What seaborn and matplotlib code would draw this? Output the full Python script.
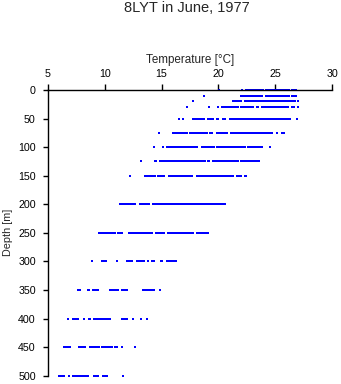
import matplotlib
matplotlib.use("Agg")
import matplotlib.pyplot as plt
import seaborn as sns
import pandas as pd

# Observed temperature ranges (start, end) in deg C at each sampling depth [m]
depths = [0, 10, 20, 30, 50, 75, 100, 125, 150, 200, 250, 300, 350, 400, 450, 500]
seg_0 = [(20.05, 20.05), (22.05, 22.1), (22.4, 23.9), (24.2, 26.2), (26.5, 26.8)]
seg_10 = [(18.7, 18.7), (22.0, 23.8), (24.15, 26.2), (26.5, 26.8)]
seg_20 = [(17.75, 17.75), (21.3, 22.0), (22.3, 26.75), (27.0, 27.0)]
seg_30 = [(17.25, 17.25), (19.15, 19.15), (19.95, 19.95), (20.3, 21.7), (22.0, 23.0),
          (23.4, 23.5), (23.8, 26.1), (26.5, 26.6), (27.0, 27.0)]
seg_50 = [(16.5, 16.5), (16.85, 16.85), (17.8, 18.7), (19.1, 19.5), (19.9, 19.95),
          (20.4, 20.6), (21.0, 26.3), (26.9, 26.9)]
seg_75 = [(14.8, 14.8), (16.0, 17.2), (17.5, 19.0), (19.3, 19.4), (19.9, 20.75),
          (21.1, 24.7), (25.1, 25.1), (25.6, 25.8)]
seg_100 = [(14.3, 14.3), (15.1, 15.1), (15.45, 18.1), (18.55, 19.6), (19.9, 22.3),
           (22.6, 23.8), (24.5, 24.5)]
seg_125 = [(13.2, 13.2), (14.4, 14.55), (14.9, 18.8), (19.1, 19.2), (19.5, 21.7), (22.0, 23.6)]
seg_150 = [(12.2, 12.2), (13.55, 14.4), (14.7, 15.2), (15.65, 17.7), (18.1, 21.3),
           (21.6, 22.0), (22.3, 22.4)]
seg_200 = [(11.35, 12.7), (13.1, 13.9), (14.25, 20.6)]
seg_250 = [(9.5, 10.9), (11.2, 11.5), (12.1, 14.2), (14.5, 15.25), (15.6, 17.75), (18.1, 19.1)]
seg_300 = [(8.85, 8.85), (9.8, 10.1), (11.1, 11.1), (12.0, 12.4), (12.85, 13.45),
           (13.85, 13.85), (14.2, 14.35), (14.95, 15.0), (15.5, 16.25)]
seg_350 = [(7.7, 7.8), (8.5, 8.6), (8.95, 9.4), (10.5, 11.15), (11.5, 12.0), (13.4, 14.3), (14.9, 14.9)]
seg_400 = [(6.8, 6.8), (7.25, 7.7), (8.2, 8.2), (8.6, 8.75), (9.05, 10.5), (11.5, 12.0),
           (12.45, 12.45), (13.2, 13.2), (13.75, 13.75)]
seg_450 = [(6.45, 7.0), (7.75, 8.3), (8.7, 9.5), (9.8, 10.65), (10.95, 11.05), (11.5, 11.5),
           (12.65, 12.65)]
seg_500 = [(5.95, 6.4), (6.85, 6.85), (7.2, 8.5), (9.05, 9.4), (9.85, 10.2), (11.6, 11.6)]

x_ticks = [5, 10, 15, 20, 25, 30]
y_ticks = [0, 50, 100, 150, 200, 250, 300, 350, 400, 450, 500]
title = "8LYT in June, 1977"
xlabel = "Temperature [\u00b0C]"
ylabel = "Depth [m]"

all_segs = [seg_0, seg_10, seg_20, seg_30, seg_50, seg_75, seg_100, seg_125, seg_150,
            seg_200, seg_250, seg_300, seg_350, seg_400, seg_450, seg_500]
rows = []
sid = 0
for d, segs in zip(depths, all_segs):
    for a, b in segs:
        rows.append({"temp": a, "depth": d, "seg": sid})
        rows.append({"temp": b, "depth": d, "seg": sid})
        sid += 1
df = pd.DataFrame(rows)

sns.set_theme(style="white")
plt.rcParams["font.family"] = ["Liberation Sans", "DejaVu Sans"]

fig = plt.figure(figsize=(3.41, 3.84), dpi=100)
ax = fig.add_axes([47.7 / 341, 1 - 375.7 / 384, (332.3 - 47.7) / 341, (375.7 - 90) / 384])

sns.lineplot(data=df, x="temp", y="depth", units="seg", estimator=None, sort=False,
             color="#0000ff", linewidth=1.3, marker="s", markersize=1.8,
             markeredgewidth=0, legend=False, ax=ax, clip_on=False,
             antialiased=False)

ax.set_xlim(5, 30)
ax.set_ylim(500, 0)
ax.set_xticks(x_ticks)
ax.set_yticks(y_ticks)
ax.xaxis.tick_top()
ax.xaxis.set_label_position("top")
for s in ["bottom", "right"]:
    ax.spines[s].set_visible(False)
for s in ["top", "left"]:
    ax.spines[s].set_color("black")
    ax.spines[s].set_linewidth(1.0)
ax.tick_params(axis="x", direction="out", length=4, width=1, pad=4, labelsize=7.7,
               colors="black", top=True, bottom=False)
ax.tick_params(axis="y", direction="out", length=3.6, width=1, pad=5, labelsize=7.7,
               colors="black", left=True)
ax.set_xlabel(xlabel, fontsize=8.4, labelpad=4)
ax.set_ylabel(ylabel, fontsize=7.8, labelpad=4)
ax.grid(False)
fig.text(187 / 341, 1 - 8.5 / 384, title, ha="center", va="center", fontsize=10.5)

fig.savefig("out.png", dpi=100)
